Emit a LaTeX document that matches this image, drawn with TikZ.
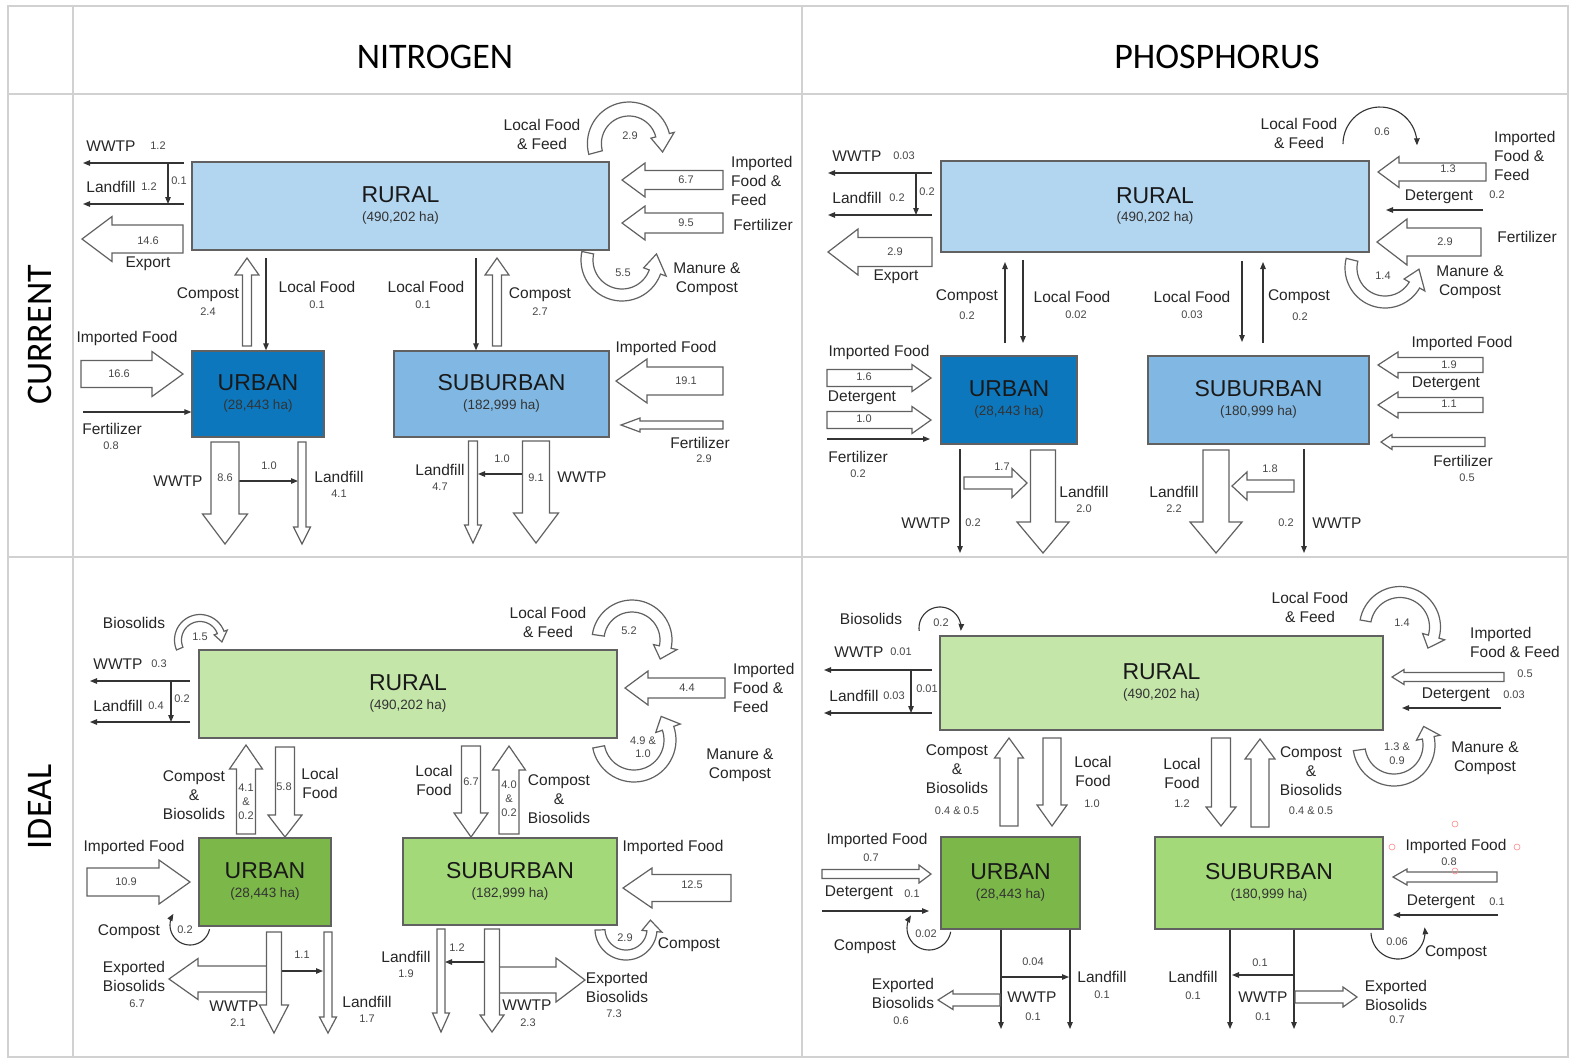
\documentclass[tikz,border=0pt]{standalone}
\usepackage{fontspec}
\setmainfont{Liberation Sans}
\newfontfamily\headfont{Carlito}
\usetikzlibrary{arrows.meta}
\definecolor{ruralC}{RGB}{178,213,240}
\definecolor{urbanC}{RGB}{13,119,189}
\definecolor{subC}{RGB}{128,184,227}
\definecolor{ruralI}{RGB}{196,230,169}
\definecolor{urbanI}{RGB}{123,183,73}
\definecolor{subI}{RGB}{163,217,120}
\tikzset{
  grid/.style ={draw=black!18,line width=1.6pt},
  box/.style  ={draw=black!62,line width=1.3pt,inner sep=0pt},
  fat/.style  ={draw=black!62,line width=1.2pt,fill=white,line join=miter},
  flow/.style ={draw=black!80,line width=1.1pt,-{Triangle[length=7pt,width=5.5pt]}},
  lbl/.style  ={font=\fontsize{15.5}{19}\selectfont,text=black!85,align=center,inner sep=0pt},
  num/.style  ={font=\fontsize{11}{14}\selectfont,text=black!72,align=center,inner sep=0pt},
  title/.style={font=\fontsize{23}{26}\selectfont,text=black!90,inner sep=0pt},
  area/.style ={font=\fontsize{13.5}{16}\selectfont,text=black!80,inner sep=0pt},
  head/.style ={font=\headfont\fontsize{36}{40}\selectfont,inner sep=0pt}
}
% tail, direction, length, shaft half width, head half width, head length
\newcommand\fatarrow[6]{%
  \begin{scope}[shift={(#1)},rotate=#2]
    \draw[fat] (0,-#4) -- ({#3-#6},-#4) -- ({#3-#6},-#5) -- (#3,0)
      -- ({#3-#6},#5) -- ({#3-#6},#4) -- (0,#4) -- cycle;
  \end{scope}}
% centre x, centre y, from, to, radius, shaft half width, head half width, head turn
\newcommand\bendarrow[8]{%
  \draw[fat] plot[domain=#3:#4,samples=36] ({#1+(#5+#6)*cos(\x)},{#2+(#5+#6)*sin(\x)})
    -- ({#1+(#5+#7)*cos(#4)},{#2+(#5+#7)*sin(#4)})
    -- ({#1+#5*cos(#4+(#8))},{#2+#5*sin(#4+(#8))})
    -- ({#1+(#5-#7)*cos(#4)},{#2+(#5-#7)*sin(#4)})
    -- plot[domain=#4:#3,samples=36] ({#1+(#5-#6)*cos(\x)},{#2+(#5-#6)*sin(\x)}) -- cycle;}
\newcommand\bendline[5]{%
  \draw[flow] plot[domain=#3:#4,samples=30] ({#1+#5*cos(\x)},{#2+#5*sin(\x)});}
\begin{document}
\begin{tikzpicture}[x=1pt,y=-1pt]
  \useasboundingbox (0,0) rectangle (1572,1061);
  \fill[white] (0,0) rectangle (1572,1061);

  % table
  \draw[grid] (8,6) rectangle (1568,1057);
  \draw[grid] (8,94) -- (1568,94);
  \draw[grid] (8,557) -- (1568,557);
  \draw[grid] (73,6) -- (73,1057);
  \draw[grid] (802,6) -- (802,1057);
  \node[head] (hd-n) at (435,57) {NITROGEN};
  \node[head] (hd-p) at (1217,57) {PHOSPHORUS};
  \node[head,rotate=90] (row-c) at (40,335) {CURRENT};
  \node[head,rotate=90] (row-i) at (40,807) {IDEAL};

  % ---------- nitrogen, current ----------
  \node[box,fill=ruralC,minimum width=417,minimum height=88] (nc-rural) at (400.5,206) {};
  \node[box,fill=urbanC,minimum width=132,minimum height=86] (nc-urban) at (258,394) {};
  \node[box,fill=subC,minimum width=215,minimum height=86] (nc-sub) at (501.5,394) {};
  \node[title] (nc-rural-t) at ([yshift=11]nc-rural.center) {RURAL};
  \node[area]  (nc-rural-a) at ([yshift=-12]nc-rural.center) {(490,202 ha)};
  \node[title] (nc-urban-t) at ([yshift=11]nc-urban.center) {URBAN};
  \node[area]  (nc-urban-a) at ([yshift=-12]nc-urban.center) {(28,443 ha)};
  \node[title] (nc-sub-t) at ([yshift=11]nc-sub.center) {SUBURBAN};
  \node[area]  (nc-sub-a) at ([yshift=-12]nc-sub.center) {(182,999 ha)};

  \draw[flow] (184,163) -- (83,163);
  \draw[flow] (184,204) -- (83,204);
  \draw[flow] (168,163) -- (168,204);
  \draw[flow] (266,258) -- (266,0 |- nc-urban.north);
  \draw[flow] (83,412) -- (nc-urban.west |- 0,412);
  \draw[flow] (239,481) -- (298,481);
  \draw[flow] (476,258) -- (476,0 |- nc-sub.north);
  \draw[flow] (522,474) -- (478,474);

  \fatarrow{183,239}{180}{101}{14}{22.5}{30}
  \fatarrow{81,374}{0}{102}{13.5}{22.5}{31}
  \fatarrow{247,346}{90}{88}{4.5}{12}{17}
  \fatarrow{497,346}{90}{88}{4.5}{12}{17}
  \fatarrow{723,180}{180}{101}{9.5}{17}{23}
  \fatarrow{723,223}{180}{101}{10}{17}{23}
  \fatarrow{723,381}{180}{107}{14}{22}{31}
  \fatarrow{723,425}{180}{102}{4}{7}{19}
  \fatarrow{225,442}{270}{102}{14}{22.5}{30}
  \fatarrow{302,442}{270}{102}{4}{8.5}{17}
  \fatarrow{473,441}{270}{102}{4.5}{8.5}{18}
  \fatarrow{536,441}{270}{102}{13.5}{22.5}{30}
  \bendarrow{629}{143.6}{165}{346}{34.6}{7}{12}{28}
  \bendarrow{622}{260}{192}{20}{35}{6}{12}{-30}

  \node[lbl] (nc-wwtp) at (111,146) {WWTP};
  \node[num] (nc-wwtp-v) at (158,146) {1.2};
  \node[lbl] (nc-land) at (111,187) {Landfill};
  \node[num] (nc-land-v) at (149,187) {1.2};
  \node[num] (nc-wl-v) at (179,181) {0.1};
  \node[num] (nc-exp-v) at (148,241) {14.6};
  \node[lbl] (nc-exp) at (148,264) {Export};
  \node[lbl] (nc-uc) at (208,295) {Compost};
  \node[num] (nc-uc-v) at (208,312) {2.4};
  \node[lbl] (nc-ulf) at (317,287) {Local Food};
  \node[num] (nc-ulf-v) at (317,305) {0.1};
  \node[lbl] (nc-uimp) at (127,338) {Imported Food};
  \node[num] (nc-uimp-v) at (119,374) {16.6};
  \node[lbl] (nc-ufert) at (112,429) {Fertilizer};
  \node[num] (nc-ufert-v) at (111,446) {0.8};
  \node[lbl] (nc-uww) at (178,481) {WWTP};
  \node[num] (nc-uww-v) at (225,478) {8.6};
  \node[num] (nc-uwl-v) at (269,466) {1.0};
  \node[lbl] (nc-uland) at (339,477) {Landfill};
  \node[num] (nc-uland-v) at (339,494) {4.1};
  \node[lbl] (nc-lff) at (542,134.5) {Local Food\\\& Feed};
  \node[num] (nc-lff-v) at (630,136) {2.9};
  \node[num] (nc-iff-v) at (686,180) {6.7};
  \node[lbl,anchor=west,align=left] (nc-iff) at (731,180.5) {Imported\\Food \&\\Feed};
  \node[num] (nc-fert-v) at (686,223) {9.5};
  \node[lbl] (nc-fert) at (763,225) {Fertilizer};
  \node[num] (nc-mc-v) at (623,273) {5.5};
  \node[lbl] (nc-mc) at (707,279.5) {Manure \&\\Compost};
  \node[lbl] (nc-slf) at (426,287) {Local Food};
  \node[num] (nc-slf-v) at (423,305) {0.1};
  \node[lbl] (nc-sc) at (540,295) {Compost};
  \node[num] (nc-sc-v) at (540,312) {2.7};
  \node[lbl] (nc-simp) at (666,348) {Imported Food};
  \node[num] (nc-simp-v) at (686,381) {19.1};
  \node[lbl] (nc-sfert) at (700,443) {Fertilizer};
  \node[num] (nc-sfert-v) at (704,459) {2.9};
  \node[lbl] (nc-sland) at (440,470) {Landfill};
  \node[num] (nc-sland-v) at (440,487) {4.7};
  \node[num] (nc-swl-v) at (502,459) {1.0};
  \node[num] (nc-sww-v) at (536,478) {9.1};
  \node[lbl] (nc-sww) at (582,477) {WWTP};

  % ---------- phosphorus, current ----------
  \node[box,fill=ruralC,minimum width=428,minimum height=91] (pc-rural) at (1155,206.5) {};
  \node[box,fill=urbanC,minimum width=136,minimum height=88] (pc-urban) at (1009,400) {};
  \node[box,fill=subC,minimum width=221,minimum height=88] (pc-sub) at (1258.5,400) {};
  \node[title] (pc-rural-t) at ([yshift=11]pc-rural.center) {RURAL};
  \node[area]  (pc-rural-a) at ([yshift=-12]pc-rural.center) {(490,202 ha)};
  \node[title] (pc-urban-t) at ([yshift=11]pc-urban.center) {URBAN};
  \node[area]  (pc-urban-a) at ([yshift=-12]pc-urban.center) {(28,443 ha)};
  \node[title] (pc-sub-t) at ([yshift=11]pc-sub.center) {SUBURBAN};
  \node[area]  (pc-sub-a) at ([yshift=-12]pc-sub.center) {(180,999 ha)};

  \draw[flow] (932,173) -- (828,173);
  \draw[flow] (932,215) -- (828,215);
  \draw[flow] (916,173) -- (916,215);
  \draw[flow] (1005,343) -- (1005,262);
  \draw[flow] (1023,260) -- (1023,343);
  \draw[flow] (827,439) -- (930,439);
  \draw[flow] (960,449) -- (960,553);
  \draw[flow] (1483,210) -- (1386,210);
  \draw[flow] (1242,261) -- (1242,342);
  \draw[flow] (1263,343) -- (1263,262);
  \draw[flow] (1304,449) -- (1304,553);
  \bendline{1380}{144}{180}{362}{37}

  \fatarrow{932,252}{180}{104}{14.5}{23}{30}
  \fatarrow{827,378}{0}{104}{8.5}{13.5}{19}
  \fatarrow{827,420}{0}{104}{8.5}{13.5}{19}
  \fatarrow{1043,450}{270}{103}{12.5}{26}{31}
  \fatarrow{964,483}{0}{63}{6}{14.5}{15}
  \fatarrow{1486,172}{180}{108}{9}{15.5}{21}
  \fatarrow{1481,242}{180}{104}{14}{23}{30}
  \fatarrow{1483,365}{180}{105}{7.5}{13}{20}
  \fatarrow{1483,405}{180}{105}{7.5}{13}{20}
  \fatarrow{1485,442}{180}{104}{4.5}{7.5}{11}
  \fatarrow{1216,450}{270}{103}{13}{26}{31}
  \fatarrow{1294,486}{180}{62}{6}{14}{15}
  \bendarrow{1385}{268}{194}{30}{34}{6}{12}{-28}

  \node[lbl] (pc-wwtp) at (857,156) {WWTP};
  \node[num] (pc-wwtp-v) at (904,156) {0.03};
  \node[lbl] (pc-land) at (857,198) {Landfill};
  \node[num] (pc-land-v) at (897,198) {0.2};
  \node[num] (pc-wl-v) at (927,192) {0.2};
  \node[num] (pc-exp-v) at (895,252) {2.9};
  \node[lbl] (pc-exp) at (896,277) {Export};
  \node[lbl] (pc-uc) at (967,297) {Compost};
  \node[num] (pc-uc-v) at (967,316) {0.2};
  \node[lbl] (pc-ulf) at (1072,297) {Local Food};
  \node[num] (pc-ulf-v) at (1076,315) {0.02};
  \node[lbl] (pc-uimp) at (879,352) {Imported Food};
  \node[num] (pc-uimp-v) at (864,377) {1.6};
  \node[lbl] (pc-udet) at (862,398) {Detergent};
  \node[num] (pc-udet-v) at (864,419) {1.0};
  \node[lbl] (pc-ufert) at (858,457) {Fertilizer};
  \node[num] (pc-ufert-v) at (858,474) {0.2};
  \node[lbl] (pc-uww) at (926,523) {WWTP};
  \node[num] (pc-uww-v) at (973,523) {0.2};
  \node[num] (pc-uwl-v) at (1002,467) {1.7};
  \node[lbl] (pc-uland) at (1084,492) {Landfill};
  \node[num] (pc-uland-v) at (1084,509) {2.0};
  \node[lbl] (pc-lff) at (1299,133) {Local Food\\\& Feed};
  \node[num] (pc-lff-v) at (1382,132) {0.6};
  \node[num] (pc-iff-v) at (1448,169) {1.3};
  \node[lbl,anchor=west,align=left] (pc-iff) at (1494,155.5) {Imported\\Food \&\\Feed};
  \node[lbl] (pc-det) at (1439,197) {Detergent};
  \node[num] (pc-det-v) at (1497,195) {0.2};
  \node[num] (pc-fert-v) at (1445,242) {2.9};
  \node[lbl] (pc-fert) at (1527,237) {Fertilizer};
  \node[num] (pc-mc-v) at (1383,276) {1.4};
  \node[lbl] (pc-mc) at (1470,282) {Manure \&\\Compost};
  \node[lbl] (pc-slf) at (1192,297) {Local Food};
  \node[num] (pc-slf-v) at (1192,315) {0.03};
  \node[lbl] (pc-sc) at (1299,297) {Compost};
  \node[num] (pc-sc-v) at (1300,317) {0.2};
  \node[lbl] (pc-simp) at (1462,343) {Imported Food};
  \node[num] (pc-simp-v) at (1449,365) {1.9};
  \node[lbl] (pc-sdet) at (1446,384) {Detergent};
  \node[num] (pc-sdet-v) at (1449,404) {1.1};
  \node[lbl] (pc-sfert) at (1463,461) {Fertilizer};
  \node[num] (pc-sfert-v) at (1467,478) {0.5};
  \node[lbl] (pc-sland) at (1174,492) {Landfill};
  \node[num] (pc-sland-v) at (1174,509) {2.2};
  \node[num] (pc-swl-v) at (1270,469) {1.8};
  \node[num] (pc-sww-v) at (1286,523) {0.2};
  \node[lbl] (pc-sww) at (1337,523) {WWTP};

  % ---------- nitrogen, ideal ----------
  \node[box,fill=ruralI,minimum width=418,minimum height=88] (ni-rural) at (408,694) {};
  \node[box,fill=urbanI,minimum width=132,minimum height=88] (ni-urban) at (265,882) {};
  \node[box,fill=subI,minimum width=214,minimum height=87] (ni-sub) at (510,881.5) {};
  \node[title] (ni-rural-t) at ([yshift=11]ni-rural.center) {RURAL};
  \node[area]  (ni-rural-a) at ([yshift=-12]ni-rural.center) {(490,202 ha)};
  \node[title] (ni-urban-t) at ([yshift=11]ni-urban.center) {URBAN};
  \node[area]  (ni-urban-a) at ([yshift=-12]ni-urban.center) {(28,443 ha)};
  \node[title] (ni-sub-t) at ([yshift=11]ni-sub.center) {SUBURBAN};
  \node[area]  (ni-sub-a) at ([yshift=-12]ni-sub.center) {(182,999 ha)};

  \draw[flow] (190,681) -- (90,681);
  \draw[flow] (190,722) -- (90,722);
  \draw[flow] (171,681) -- (171,722);
  \draw[flow] (282,971) -- (323,971);
  \draw[flow] (484,962) -- (445,962);
  \bendline{190}{925}{12}{214}{20}

  \fatarrow{246,834}{90}{89}{9.5}{16.5}{24}
  \fatarrow{285,747}{270}{90}{9.5}{17}{22}
  \fatarrow{87,882}{0}{103}{14}{22}{31}
  \fatarrow{267,979}{180}{98}{13}{20.5}{29}
  \fatarrow{274,932}{270}{101}{7.5}{14.5}{28}
  \fatarrow{328,932}{270}{101}{4}{8.5}{16}
  \fatarrow{725,688}{180}{100}{10}{17}{23}
  \fatarrow{471,746}{270}{91}{9.5}{17}{24}
  \fatarrow{509,834}{90}{88}{10}{16.5}{24}
  \fatarrow{731,888}{180}{108}{13.5}{20}{29}
  \fatarrow{441,929}{270}{103}{4}{8.5}{19}
  \fatarrow{499,980}{0}{86}{13}{22}{29}
  \fatarrow{492,929}{270}{103}{7.5}{12}{17}
  \bendarrow{200}{640}{157}{340}{22}{3.5}{7}{25}
  \bendarrow{632}{640}{188}{372}{34}{6}{12}{22}
  \bendarrow{634}{740}{169}{-19}{36}{6}{13}{-22}
  \bendarrow{626}{929}{178}{5}{26}{5}{10}{-25}

  \node[lbl] (ni-bio) at (134,623) {Biosolids};
  \node[num] (ni-bio-v) at (200,637) {1.5};
  \node[lbl] (ni-wwtp) at (118,664) {WWTP};
  \node[num] (ni-wwtp-v) at (159,664) {0.3};
  \node[lbl] (ni-land) at (118,706) {Landfill};
  \node[num] (ni-land-v) at (156,706) {0.4};
  \node[num] (ni-wl-v) at (182,699) {0.2};
  \node[lbl] (ni-ucb) at (194,795) {Compost\\\&\\Biosolids};
  \node[num] (ni-ucb-v) at (246,802) {4.1\\\&\\0.2};
  \node[num] (ni-ulf-v) at (284,787) {5.8};
  \node[lbl] (ni-ulf) at (320,783.5) {Local\\Food};
  \node[lbl] (ni-uimp) at (134,847) {Imported Food};
  \node[num] (ni-uimp-v) at (126,882) {10.9};
  \node[lbl] (ni-uc) at (129,932) {Compost};
  \node[num] (ni-uc-v) at (185,930) {0.2};
  \node[lbl] (ni-uexp) at (134,976.5) {Exported\\Biosolids};
  \node[num] (ni-uexp-v) at (137,1004) {6.7};
  \node[lbl] (ni-uww) at (234,1006) {WWTP};
  \node[num] (ni-uww-v) at (238,1023) {2.1};
  \node[num] (ni-uwl-v) at (302,955) {1.1};
  \node[lbl] (ni-uland) at (367,1002) {Landfill};
  \node[num] (ni-uland-v) at (367,1019) {1.7};
  \node[lbl] (ni-lff) at (548,622.5) {Local Food\\\& Feed};
  \node[num] (ni-lff-v) at (629,631) {5.2};
  \node[num] (ni-iff-v) at (687,688) {4.4};
  \node[lbl,anchor=west,align=left] (ni-iff) at (733,688) {Imported\\Food \&\\Feed};
  \node[num,font=\fontsize{11}{13}\selectfont] (ni-mc-v) at (643,747.5) {4.9 \&\\1.0};
  \node[lbl] (ni-mc) at (740,765) {Manure \&\\Compost};
  \node[lbl] (ni-slf) at (434,780.5) {Local\\Food};
  \node[num] (ni-slf-v) at (471,782) {6.7};
  \node[num] (ni-scb-v) at (509,799) {4.0\\\&\\0.2};
  \node[lbl] (ni-scb) at (559,799) {Compost\\\&\\Biosolids};
  \node[lbl] (ni-simp) at (673,847) {Imported Food};
  \node[num] (ni-simp-v) at (692,885) {12.5};
  \node[num] (ni-sc-v) at (625,938) {2.9};
  \node[lbl] (ni-sc) at (689,945) {Compost};
  \node[lbl] (ni-sland) at (406,957) {Landfill};
  \node[num] (ni-sland-v) at (406,974) {1.9};
  \node[num] (ni-swl-v) at (457,948) {1.2};
  \node[lbl] (ni-sww) at (527,1005) {WWTP};
  \node[num] (ni-sww-v) at (528,1023) {2.3};
  \node[lbl] (ni-sexp) at (617,987) {Exported\\Biosolids};
  \node[num] (ni-sexp-v) at (614,1014) {7.3};

  % ---------- phosphorus, ideal ----------
  \node[box,fill=ruralI,minimum width=443,minimum height=94] (pi-rural) at (1161.5,683) {};
  \node[box,fill=urbanI,minimum width=139,minimum height=92] (pi-urban) at (1010.5,883) {};
  \node[box,fill=subI,minimum width=228,minimum height=92] (pi-sub) at (1269,883) {};
  \node[title] (pi-rural-t) at ([yshift=11]pi-rural.center) {RURAL};
  \node[area]  (pi-rural-a) at ([yshift=-12]pi-rural.center) {(490,202 ha)};
  \node[title] (pi-urban-t) at ([yshift=11]pi-urban.center) {URBAN};
  \node[area]  (pi-urban-a) at ([yshift=-12]pi-urban.center) {(28,443 ha)};
  \node[title] (pi-sub-t) at ([yshift=11]pi-sub.center) {SUBURBAN};
  \node[area]  (pi-sub-a) at ([yshift=-12]pi-sub.center) {(180,999 ha)};

  \draw[flow] (932,670) -- (824,670);
  \draw[flow] (932,713) -- (824,713);
  \draw[flow] (911,670) -- (911,713);
  \draw[flow] (822,911) -- (929,911);
  \draw[flow] (1001,0 |- pi-urban.south) -- (1001,1029);
  \draw[flow] (1070,0 |- pi-urban.south) -- (1070,1029);
  \draw[flow] (1001,977) -- (1069,977);
  \draw[flow] (1501,708) -- (1402,708);
  \draw[flow] (1498,915) -- (1393,915);
  \draw[flow] (1230,0 |- pi-sub.south) -- (1230,1029);
  \draw[flow] (1294,0 |- pi-sub.south) -- (1294,1029);
  \draw[flow] (1294,975) -- (1232,975);
  \bendline{940}{628}{172}{368}{21}
  \bendline{929}{928}{10}{215}{22}
  \bendline{1398}{932}{178}{-10}{27}

  \fatarrow{1009,826}{90}{88}{9}{14.5}{20}
  \fatarrow{1052,738}{270}{88}{9}{15}{21}
  \fatarrow{822,874}{0}{109}{4.5}{9}{12}
  \fatarrow{1000,1000}{180}{62}{6}{9.5}{15}
  \fatarrow{1504,677}{180}{112}{4.5}{7.5}{12}
  \fatarrow{1221,738}{270}{88}{9.5}{15}{19}
  \fatarrow{1260,827}{90}{88}{9}{15}{20}
  \fatarrow{1497,877}{180}{104}{5}{8}{14}
  \fatarrow{1295,997}{0}{62}{6}{10}{14}
  \bendarrow{1400}{627}{190}{376}{35}{5.5}{11.5}{21}
  \bendarrow{1394}{745}{172}{-12}{35}{6}{12}{-20}

  \node[lbl] (pi-bio) at (871,619) {Biosolids};
  \node[num] (pi-bio-v) at (941,623) {0.2};
  \node[lbl] (pi-wwtp) at (859,652) {WWTP};
  \node[num] (pi-wwtp-v) at (901,652) {0.01};
  \node[lbl] (pi-land) at (854,696) {Landfill};
  \node[num] (pi-land-v) at (894,696) {0.03};
  \node[num] (pi-wl-v) at (927,689) {0.01};
  \node[lbl] (pi-ucb) at (957,769) {Compost\\\&\\Biosolids};
  \node[num] (pi-ucb-v) at (957,811) {0.4 \& 0.5};
  \node[lbl] (pi-ulf) at (1093,771) {Local\\Food};
  \node[num] (pi-ulf-v) at (1092,804) {1.0};
  \node[lbl] (pi-uimp) at (877,840) {Imported Food};
  \node[num] (pi-uimp-v) at (871,858) {0.7};
  \node[lbl] (pi-udet) at (859,893) {Detergent};
  \node[num] (pi-udet-v) at (912,894) {0.1};
  \node[num] (pi-uc-v) at (926,934) {0.02};
  \node[lbl] (pi-uc) at (865,947) {Compost};
  \node[num] (pi-uwl-v) at (1033,962) {0.04};
  \node[lbl] (pi-uland) at (1102,977) {Landfill};
  \node[num] (pi-uland-v) at (1102,995) {0.1};
  \node[lbl] (pi-uww) at (1032,997) {WWTP};
  \node[num] (pi-uww-v) at (1033,1017) {0.1};
  \node[lbl] (pi-uexp) at (903,993) {Exported\\Biosolids};
  \node[num] (pi-uexp-v) at (901,1021) {0.6};
  \node[lbl] (pi-lff) at (1310,607) {Local Food\\\& Feed};
  \node[num] (pi-lff-v) at (1402,623) {1.4};
  \node[lbl,anchor=west,align=left] (pi-iff) at (1470,642) {Imported\\Food \& Feed};
  \node[num] (pi-iff-v) at (1525,674) {0.5};
  \node[lbl] (pi-det) at (1456,695) {Detergent};
  \node[num] (pi-det-v) at (1514,695) {0.03};
  \node[num,font=\fontsize{11}{14}\selectfont] (pi-mc-v) at (1397,754) {1.3 \&\\0.9};
  \node[lbl] (pi-mc) at (1485,758) {Manure \&\\Compost};
  \node[lbl] (pi-slf) at (1182,773.5) {Local\\Food};
  \node[num] (pi-slf-v) at (1182,804) {1.2};
  \node[lbl] (pi-scb) at (1311,771) {Compost\\\&\\Biosolids};
  \node[num] (pi-scb-v) at (1311,811) {0.4 \& 0.5};
  \node[lbl] (pi-simp) at (1456,846) {Imported Food};
  \node[num] (pi-simp-v) at (1449,862) {0.8};
  \node[lbl] (pi-sdet) at (1441,902) {Detergent};
  \node[num] (pi-sdet-v) at (1497,902) {0.1};
  \node[num] (pi-sc-v) at (1397,942) {0.06};
  \node[lbl] (pi-sc) at (1456,953) {Compost};
  \node[lbl] (pi-sland) at (1193,977) {Landfill};
  \node[num] (pi-sland-v) at (1193,996) {0.1};
  \node[num] (pi-swl-v) at (1260,963) {0.1};
  \node[lbl] (pi-sww) at (1263,997) {WWTP};
  \node[num] (pi-sww-v) at (1263,1017) {0.1};
  \node[lbl] (pi-sexp) at (1396,995) {Exported\\Biosolids};
  \node[num] (pi-sexp-v) at (1397,1020) {0.7};
  \foreach \px/\py in {1392/847,1517/847,1455/824,1455/871}
    \draw[red!45,line width=0.6pt] (\px,\py) circle[radius=3];
\end{tikzpicture}
\end{document}
